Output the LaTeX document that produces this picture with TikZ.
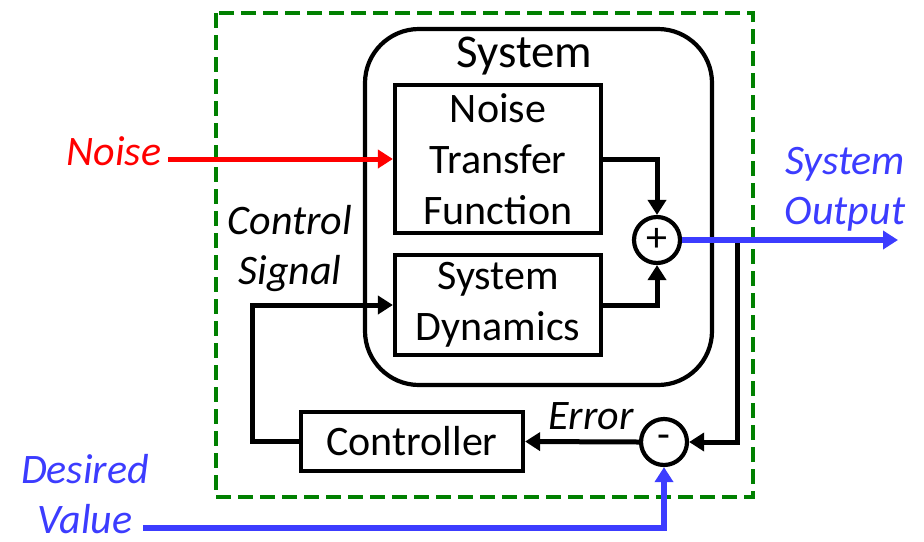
\documentclass[tikz,border=0pt]{standalone}
\usepackage{fontspec}
\setmainfont{Carlito}
\usetikzlibrary{arrows.meta}
\definecolor{sigblue}{RGB}{60,60,255}
\definecolor{loopgreen}{RGB}{0,128,0}

\begin{document}
\begin{tikzpicture}[x=0.5pt,y=-0.5pt]
			\tikzstyle{block} = [draw, line width=2.1pt, align=center, inner sep=0pt, font=\fontsize{21}{25.5}\selectfont]
			\tikzstyle{sum} = [draw, circle, line width=2.1pt, minimum size=23pt, inner sep=0pt, font=\fontsize{21}{25}\selectfont]
			\tikzstyle{wire} = [line width=2.5pt, -{Triangle[length=7.5pt,width=9pt]}]
			\tikzstyle{lbl} = [align=center, font=\fontsize{21}{25}\selectfont\itshape]
			\useasboundingbox (0,0) rectangle (924,541);
			% dashed loop frame
			\draw[loopgreen, line width=2.2pt, dash pattern=on 7.5pt off 3.5pt] (216,13) rectangle (753,497);
			% the plant
			\node [block, rounded corners=27pt, minimum width=173.5pt, minimum height=178pt] (sys) at (538.5,207) {};
			\node [font=\fontsize{23.5}{28}\selectfont] (systitle) at (524.5,56.5) {System};
			\node [block, minimum width=103pt, minimum height=74pt] (nf) at (498,159) {Noise\\Transfer\\Function};
			\node [block, minimum width=103pt, minimum height=50pt] (sd) at (498,305) {System\\Dynamics};
			\node [block, minimum width=111pt, minimum height=29.5pt] (ctrl) at (412,441.5) {Controller};
			\node [sum] (plus) at (657,240) {+};
			\node [sum] (minus) at (664,442) {-};
			% labels
			\node [lbl, text=red] (noiselbl) at (114,151.5) {Noise};
			\node [lbl, text=sigblue] (outlbl) at (845,189) {System\\Output};
			\node [lbl] (cslbl) at (290,249) {Control\\Signal};
			\node [lbl] (errlbl) at (591,416.5) {Error};
			\node [lbl, text=sigblue, inner sep=1pt] (dvlbl) at (85,494) {Desired\\Value};
			\coordinate (fb) at (737,240);
			\coordinate (out) at (898,240);
			\coordinate (bend) at (252,305);
			\coordinate (dvin) at (143,528);
			% connectors
			\draw [wire, red] (noiselbl.east |- nf.west) -- (nf.west);
			\draw [wire] (nf.east) -| (plus.north);
			\draw [wire] (sd.east) -| (plus.south);
			\draw [wire] (fb) |- (minus.east);
			\draw [wire, sigblue, line width=2.75pt] (plus.east) -- (out);
			\draw [wire] (minus.west) -- (ctrl.east);
			\draw [wire] (ctrl.west) -| (bend) -- (sd.west);
			\draw [wire, sigblue, line width=2.75pt] (dvin) -| (minus.south);
\end{tikzpicture}
\end{document}
